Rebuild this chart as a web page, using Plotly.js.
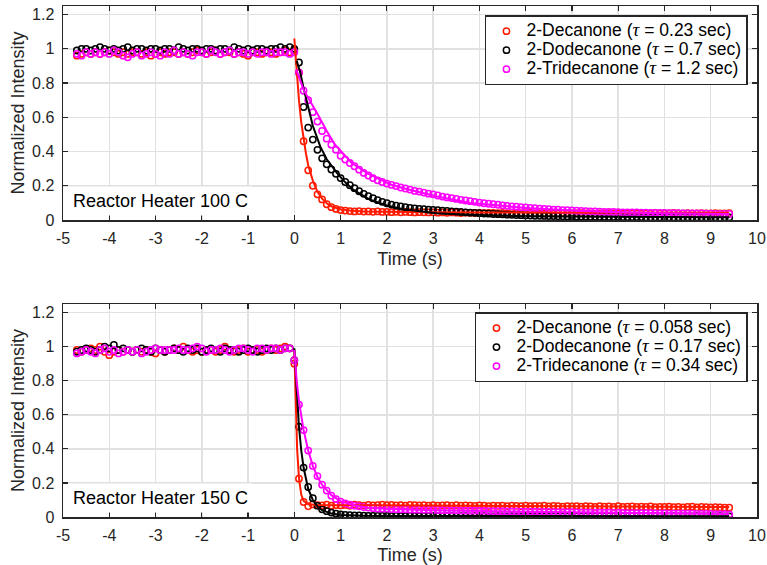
<!DOCTYPE html>
<html>
<head>
<meta charset="utf-8">
<script src="https://cdn.plot.ly/plotly-3.0.1.min.js"></script>
<style>html,body{margin:0;padding:0;background:#fff;}#chart{width:767px;height:565px;}</style>
</head>
<body>
<div id="chart"></div>
<script>
// Sample times (s)
const time = [
-4.7,-4.6,-4.5,-4.4,-4.3,-4.2,-4.1,-4.0,-3.9,-3.8,
-3.7,-3.6,-3.5,-3.4,-3.3,-3.2,-3.1,-3.0,-2.9,-2.8,
-2.7,-2.6,-2.5,-2.4,-2.3,-2.2,-2.1,-2.0,-1.9,-1.8,
-1.7,-1.6,-1.5,-1.4,-1.3,-1.2,-1.1,-1.0,-0.9,-0.8,
-0.7,-0.6,-0.5,-0.4,-0.3,-0.2,-0.1,
0,0.1,0.2,0.3,0.4,0.5,0.6,0.7,0.8,0.9,
1.0,1.1,1.2,1.3,1.4,1.5,1.6,1.7,1.8,1.9,
2.0,2.1,2.2,2.3,2.4,2.5,2.6,2.7,2.8,2.9,
3.0,3.1,3.2,3.3,3.4,3.5,3.6,3.7,3.8,3.9,
4.0,4.1,4.2,4.3,4.4,4.5,4.6,4.7,4.8,4.9,
5.0,5.1,5.2,5.3,5.4,5.5,5.6,5.7,5.8,5.9,
6.0,6.1,6.2,6.3,6.4,6.5,6.6,6.7,6.8,6.9,
7.0,7.1,7.2,7.3,7.4,7.5,7.6,7.7,7.8,7.9,
8.0,8.1,8.2,8.3,8.4,8.5,8.6,8.7,8.8,8.9,
9.0,9.1,9.2,9.3,9.4];

// ---- Reactor Heater 100 C ----
const decanone100 = [
0.96,0.97,0.98,0.97,0.98,0.97,0.98,0.99,0.98,0.97,
0.98,0.97,0.98,0.98,0.97,0.98,0.96,0.97,0.98,0.97,
0.98,0.98,0.97,0.98,0.97,0.98,0.99,0.98,0.97,0.98,
0.99,0.97,0.98,0.98,0.97,0.98,0.97,0.96,0.98,0.98,
0.97,0.98,0.98,0.97,0.98,0.99,0.98,
0.99,0.86,0.46,0.29,0.20,0.15,0.12,0.092,0.075,0.065,
0.058,0.055,0.052,0.05,0.052,0.049,0.05,0.048,0.05,0.047,
0.048,0.046,0.048,0.045,0.047,0.046,0.044,0.046,0.045,0.044,
0.045,0.043,0.044,0.042,0.044,0.043,0.041,0.043,0.042,0.041,
0.042,0.04,0.042,0.041,0.04,0.041,0.039,0.041,0.04,0.039,
0.04,0.041,0.039,0.04,0.038,0.04,0.039,0.038,0.04,0.039,
0.038,0.039,0.04,0.038,0.039,0.037,0.039,0.038,0.04,0.038,
0.039,0.037,0.038,0.04,0.038,0.037,0.039,0.038,0.041,0.038,
0.04,0.038,0.042,0.039,0.038,0.04,0.039,0.038,0.04,0.039,
0.038,0.04,0.039,0.038,0.04];
const dodecanone100 = [
0.99,1.0,1.0,0.99,1.0,1.01,1.0,0.99,1.0,0.99,
1.0,1.01,0.99,1.0,1.0,0.99,1.0,1.0,0.99,1.0,
1.0,0.99,1.01,1.0,0.99,1.0,1.0,0.99,1.0,1.0,
0.99,1.0,1.0,0.99,1.01,1.0,0.99,1.0,0.99,1.0,
1.0,0.99,1.0,1.0,1.01,1.0,1.01,
1.0,0.92,0.66,0.54,0.47,0.41,0.36,0.325,0.295,0.27,
0.245,0.222,0.203,0.186,0.168,0.153,0.139,0.127,0.116,0.106,
0.098,0.09,0.084,0.079,0.075,0.071,0.068,0.065,0.063,0.061,
0.059,0.057,0.055,0.053,0.051,0.049,0.047,0.045,0.043,0.042,
0.04,0.038,0.037,0.035,0.034,0.033,0.031,0.03,0.029,0.028,
0.027,0.026,0.025,0.025,0.024,0.023,0.023,0.022,0.022,0.021,
0.021,0.02,0.02,0.02,0.019,0.019,0.019,0.018,0.018,0.018,
0.018,0.017,0.017,0.017,0.017,0.017,0.016,0.016,0.016,0.016,
0.016,0.016,0.015,0.016,0.015,0.015,0.015,0.015,0.015,0.015,
0.015,0.015,0.014,0.015,0.015];
const tridecanone100 = [
0.97,0.96,0.98,0.97,0.98,0.97,0.98,0.97,0.99,0.98,
0.96,0.95,0.97,0.98,0.96,0.97,0.98,0.97,0.96,0.98,
0.97,0.99,0.97,0.98,0.97,0.96,0.98,0.98,0.97,0.99,
0.98,0.97,0.98,0.99,0.97,0.98,0.98,0.97,0.98,0.97,
0.98,0.98,0.97,0.98,0.98,0.98,0.97,
0.98,0.86,0.755,0.70,0.63,0.575,0.52,0.475,0.44,0.41,
0.375,0.353,0.333,0.314,0.294,0.275,0.26,0.245,0.232,0.222,
0.213,0.205,0.198,0.19,0.184,0.178,0.17,0.166,0.16,0.154,
0.15,0.143,0.137,0.132,0.128,0.123,0.118,0.114,0.11,0.106,
0.102,0.098,0.095,0.092,0.089,0.086,0.083,0.08,0.078,0.075,
0.073,0.071,0.069,0.067,0.065,0.063,0.061,0.06,0.058,0.057,
0.056,0.054,0.053,0.052,0.051,0.05,0.049,0.048,0.047,0.047,
0.046,0.045,0.045,0.044,0.044,0.043,0.043,0.042,0.042,0.041,
0.041,0.04,0.04,0.04,0.039,0.039,0.038,0.038,0.038,0.037,
0.037,0.036,0.036,0.035,0.035];

// fitted curves, 100 C
const fitDecTime100 = [0,0.05,0.1,0.15,0.2,0.25,0.3,0.4,0.5,0.6,0.7,0.8,1.0,1.2,1.5,2,3,4,5,6,7,8,9.4];
const fitDec100 = [1.06,0.85,0.70,0.57,0.47,0.39,0.32,0.23,0.165,0.125,0.098,0.08,0.063,0.055,0.05,0.047,0.045,0.044,0.043,0.043,0.042,0.042,0.042];
const fitDodTime100 = [0.05,0.12,0.2,0.27,0.4,0.56,0.7,0.92,1.1,1.28,1.64,2.0,2.36,3.08,3.8,5,6,7,8,9.4];
const fitDod100 = [0.93,0.87,0.77,0.69,0.55,0.43,0.355,0.275,0.22,0.176,0.118,0.085,0.063,0.039,0.03,0.022,0.019,0.018,0.017,0.016];
const fitTriTime100 = [0.04,0.2,0.52,0.7,0.88,1.24,1.6,2.1,2.36,3.08,3.8,5,6,7,8,9.4];
const fitTri100 = [0.88,0.76,0.61,0.52,0.44,0.333,0.27,0.206,0.186,0.137,0.10,0.07,0.055,0.045,0.04,0.035];

// ---- Reactor Heater 150 C ----
const decanone150 = [
0.98,0.97,0.98,0.99,0.98,1.0,0.97,0.95,0.97,0.98,
0.97,0.98,0.97,0.98,0.97,0.98,0.97,0.96,0.98,0.97,
0.98,0.99,0.98,1.0,0.98,0.97,0.98,0.97,0.98,0.98,
0.97,0.98,1.0,0.98,0.97,0.98,0.99,0.97,0.98,0.98,
0.97,0.98,0.99,0.98,0.99,1.0,0.99,
0.9,0.225,0.088,0.063,0.074,0.07,0.068,0.072,0.066,0.07,
0.068,0.071,0.066,0.072,0.069,0.067,0.071,0.068,0.07,0.073,
0.069,0.071,0.068,0.07,0.067,0.071,0.069,0.068,0.07,0.067,
0.069,0.066,0.068,0.07,0.067,0.069,0.066,0.068,0.067,0.065,
0.068,0.066,0.064,0.067,0.065,0.066,0.064,0.067,0.065,0.063,
0.066,0.064,0.065,0.063,0.066,0.062,0.065,0.063,0.061,0.064,
0.062,0.064,0.061,0.063,0.062,0.06,0.063,0.061,0.062,0.06,
0.063,0.06,0.061,0.062,0.059,0.061,0.06,0.062,0.058,0.06,
0.059,0.061,0.058,0.06,0.057,0.059,0.061,0.057,0.059,0.058,
0.056,0.058,0.057,0.055,0.055];
const dodecanone150 = [
0.97,0.98,0.99,0.98,0.97,0.98,1.0,0.99,1.01,0.98,
0.99,0.98,0.97,0.98,0.99,0.98,0.97,0.99,0.98,0.97,
0.98,0.99,0.98,0.97,0.99,0.98,0.99,0.97,0.98,0.99,
0.98,0.97,0.99,0.98,0.98,0.97,0.98,0.99,0.98,0.97,
0.98,0.99,0.98,0.99,0.98,0.99,0.99,
0.92,0.53,0.29,0.176,0.11,0.065,0.045,0.034,0.026,0.02,
0.016,0.013,0.011,0.01,0.009,0.008,0.007,0.007,0.006,0.006,
0.006,0.005,0.006,0.005,0.005,0.006,0.005,0.005,0.005,0.005,
0.005,0.005,0.004,0.005,0.005,0.004,0.005,0.005,0.004,0.005,
0.004,0.005,0.004,0.004,0.005,0.004,0.004,0.005,0.004,0.004,
0.004,0.004,0.005,0.004,0.004,0.004,0.005,0.004,0.004,0.004,
0.004,0.005,0.004,0.004,0.004,0.004,0.005,0.004,0.004,0.004,
0.004,0.004,0.004,0.005,0.004,0.004,0.004,0.004,0.005,0.004,
0.004,0.004,0.005,0.004,0.004,0.004,0.004,0.005,0.004,0.004,
0.004,0.004,0.005,0.004,0.004];
const tridecanone150 = [
0.96,0.97,0.98,0.97,0.96,0.98,0.99,0.97,0.98,0.96,
0.97,0.98,0.97,0.98,0.96,0.97,0.98,0.99,0.98,0.98,
0.98,0.98,0.99,0.98,0.98,0.99,1.0,0.99,0.97,0.98,
0.98,0.99,0.98,0.97,0.98,0.99,0.99,0.98,0.97,0.99,
0.99,0.98,0.99,0.99,0.98,0.99,0.99,
0.92,0.66,0.51,0.39,0.30,0.24,0.19,0.155,0.125,0.105,
0.09,0.08,0.072,0.066,0.062,0.058,0.055,0.052,0.05,0.049,
0.048,0.047,0.046,0.045,0.045,0.044,0.043,0.043,0.042,0.042,
0.041,0.041,0.04,0.04,0.039,0.039,0.038,0.038,0.037,0.037,
0.036,0.036,0.035,0.035,0.034,0.034,0.033,0.033,0.033,0.032,
0.032,0.031,0.031,0.03,0.03,0.03,0.029,0.029,0.028,0.028,
0.028,0.027,0.027,0.026,0.026,0.026,0.025,0.025,0.025,0.024,
0.024,0.024,0.023,0.023,0.023,0.022,0.022,0.022,0.021,0.021,
0.021,0.02,0.02,0.02,0.019,0.019,0.019,0.018,0.018,0.018,
0.018,0.017,0.017,0.017,0.016];

// fitted curves, 150 C
const fitDecTime150 = [0,0.03,0.06,0.1,0.15,0.2,0.3,0.5,1,2,4,6,8,9.4];
const fitDec150 = [0.98,0.62,0.40,0.23,0.13,0.095,0.075,0.07,0.069,0.068,0.066,0.063,0.06,0.058];
const fitDodTime150 = [0,0.05,0.1,0.15,0.2,0.3,0.4,0.5,0.6,0.8,1.0,1.5,2,9.4];
const fitDod150 = [0.99,0.72,0.53,0.39,0.29,0.165,0.1,0.062,0.04,0.02,0.012,0.007,0.006,0.005];
const fitTriTime150 = [0,0.05,0.1,0.2,0.3,0.4,0.5,0.6,0.8,1.0,1.3,1.6,2,3,5,7,9.4];
const fitTri150 = [0.98,0.8,0.68,0.51,0.39,0.30,0.235,0.188,0.128,0.093,0.067,0.055,0.048,0.04,0.031,0.024,0.018];

const compounds = ['2-Decanone','2-Dodecanone','2-Tridecanone'];
const tau100 = ['0.23','0.7','1.2'];
const tau150 = ['0.058','0.17','0.34'];
const panelLabels = ['Reactor Heater 100 C','Reactor Heater 150 C'];
const xTickVals = [-5,-4,-3,-2,-1,0,1,2,3,4,5,6,7,8,9,10];
const xTickText = ['-5','-4','-3','-2','-1','0','1','2','3','4','5','6','7','8','9','10'];

const colors = ['#ff1a00','#000000','#ff00ff'];
const TAU = "<span style='font-family:Liberation Serif;font-style:italic;font-size:19px'>τ</span>";

function dataTrace(y, i, tau, xa, ya, lg){
  return {x: time, y: y, xaxis: xa, yaxis: ya, type:'scatter', mode:'markers',
    name: "<span style='font-size:17.5px'>" + compounds[i] + ' (' + TAU + ' = ' + tau + ' sec)</span>', legend: lg,
    marker:{symbol:'circle-open', size:6.3, color: colors[i], line:{width:1.5, color: colors[i]}},
    hoverinfo:'skip'};
}
function fitTrace(x, y, i, xa, ya){
  return {x: x, y: y, xaxis: xa, yaxis: ya, type:'scatter', mode:'lines',
    line:{color: colors[i], width:2}, showlegend:false, hoverinfo:'skip'};
}

const traces = [
  dataTrace(decanone100,0,tau100[0],'x','y','legend'),
  dataTrace(dodecanone100,1,tau100[1],'x','y','legend'),
  dataTrace(tridecanone100,2,tau100[2],'x','y','legend'),
  fitTrace(fitDecTime100,fitDec100,0,'x','y'),
  fitTrace(fitDodTime100,fitDod100,1,'x','y'),
  fitTrace(fitTriTime100,fitTri100,2,'x','y'),
  dataTrace(decanone150,0,tau150[0],'x2','y2','legend2'),
  dataTrace(dodecanone150,1,tau150[1],'x2','y2','legend2'),
  dataTrace(tridecanone150,2,tau150[2],'x2','y2','legend2'),
  fitTrace(fitDecTime150,fitDec150,0,'x2','y2'),
  fitTrace(fitDodTime150,fitDod150,1,'x2','y2'),
  fitTrace(fitTriTime150,fitTri150,2,'x2','y2')
];

const FONT = 'Liberation Sans, Arial, sans-serif';
const AX = '#262626';
function xAxis(anchor){
  return {anchor: anchor, range:[-5,10], tickvals: xTickVals, ticktext: xTickText,
    showline:true, mirror:'ticks', linecolor:AX, linewidth:1.5, ticks:'inside', ticklen:5,
    tickcolor:AX, tickwidth:1.2, showgrid:true, gridcolor:'#e1e1e1', gridwidth:1.5, zeroline:false,
    tickfont:{family:FONT, size:16, color:AX}, ticklabelstandoff:3,
    title:{text:'Time (s)', font:{family:FONT, size:18, color:AX}, standoff:6}};
}
function yAxis(anchor, domain){
  return {anchor: anchor, domain: domain, range:[0,1.25], dtick:0.2, tick0:0,
    showline:true, mirror:'ticks', linecolor:AX, linewidth:1.5, ticks:'inside', ticklen:5,
    tickcolor:AX, tickwidth:1.2, showgrid:true, gridcolor:'#e1e1e1', gridwidth:1.5, zeroline:false,
    tickfont:{family:FONT, size:16, color:AX}, ticklabelstandoff:4,
    title:{text:'Normalized Intensity', font:{family:FONT, size:18, color:AX}, standoff:2}};
}
function legendCfg(y){
  return {x:0.987, xanchor:'right', y:y, yanchor:'top', bgcolor:'#ffffff',
    bordercolor:AX, borderwidth:1.5, font:{family:FONT, size:12, color:'#000'},
    tracegroupgap:0, itemwidth:30};
}

const layout = {
  width:767, height:565, paper_bgcolor:'#ffffff', plot_bgcolor:'#ffffff',
  margin:{l:63, r:10, t:6, b:48}, showlegend:true,
  xaxis: xAxis('y'), yaxis: yAxis('x',[0.5812,1]),
  xaxis2: xAxis('y2'), yaxis2: yAxis('x2',[0,0.4168]),
  legend: legendCfg(0.982), legend2: legendCfg(0.401),
  annotations: [
    {text: panelLabels[0], xref:'paper', yref:'paper', x:0.0072, xanchor:'left', y:0.618, yanchor:'middle',
     showarrow:false, bgcolor:'#ffffff', borderpad:4, font:{family:FONT, size:18, color:'#000'}},
    {text: panelLabels[1], xref:'paper', yref:'paper', x:0.0072, xanchor:'left', y:0.037, yanchor:'middle',
     showarrow:false, bgcolor:'#ffffff', borderpad:4, font:{family:FONT, size:18, color:'#000'}}
  ]
};

Plotly.newPlot('chart', traces, layout, {staticPlot:true, displayModeBar:false});
</script>
</body>
</html>
